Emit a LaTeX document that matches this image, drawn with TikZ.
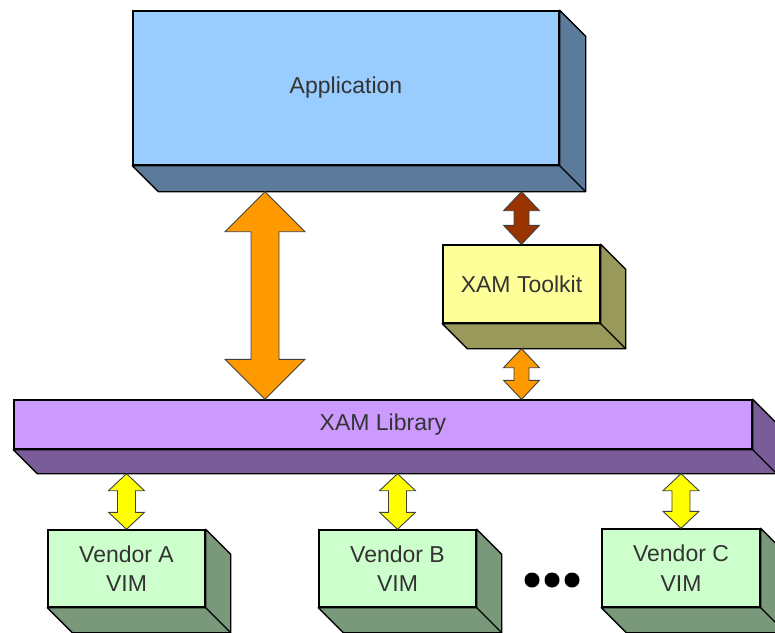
\documentclass[tikz,border=0pt]{standalone}
\usepackage{fontspec}
\setmainfont{Liberation Sans}
\usetikzlibrary{calc}
\definecolor{appF}{HTML}{99CCFF}
\definecolor{appS}{HTML}{5C7A99}
\definecolor{tkF}{HTML}{FFFF99}
\definecolor{tkS}{HTML}{99995C}
\definecolor{libF}{HTML}{CC99FF}
\definecolor{libS}{HTML}{7A5C99}
\definecolor{vF}{HTML}{CCFFCC}
\definecolor{vS}{HTML}{7A997A}
\definecolor{orangeA}{HTML}{FF9900}
\definecolor{redA}{HTML}{993300}
\definecolor{yelA}{HTML}{FFFF00}
\tikzset{
  frontface/.style={draw=black, line width=1.4pt, inner sep=0pt,
    font=\fontsize{23}{29.5}\selectfont, text=black!80, align=center},
  depthface/.style={draw=black, line width=1.4pt, line join=round},
  blockarrow/.style={draw=black!75, line width=0.9pt, line join=miter},
}
\newcommand\cubebox[8]{%
  \node[frontface, fill=#6, minimum width=#3pt, minimum height=#4pt] (#1) at (#2) {#8};
  \draw[depthface, fill=#7] (#1.north east) -- ++(#5,#5) -- ($(#1.south east)+(#5,#5)$)
     -- ($(#1.south west)+(#5,#5)$) -- (#1.south west) -- (#1.south east) -- cycle;
  \draw[depthface] (#1.south east) -- ++(#5,#5);
  \coordinate (#1-base) at ($(#1.south)+(#5,#5)$);
}
% #1 top tip, #2 bottom tip, #3 half head width, #4 half shaft width, #5 head length, #6 fill
\newcommand\dblarrow[6]{%
  \draw[blockarrow, fill=#6] (#1) -- ($(#1)+(#3,#5)$) -- ($(#1)+(#4,#5)$)
    -- ($(#2)+(#4,-#5)$) -- ($(#2)+(#3,-#5)$) -- (#2) -- ($(#2)+(-#3,-#5)$)
    -- ($(#2)+(-#4,-#5)$) -- ($(#1)+(-#4,#5)$) -- ($(#1)+(-#3,#5)$) -- cycle;
}
\begin{document}
\begin{tikzpicture}[x=1pt,y=-1pt]
\useasboundingbox (0,0) rectangle (775,632);
\clip (0,0) rectangle (775,632);
\fill[white] (0,0) rectangle (775,632);

\cubebox{app}{346,88}{426}{154}{26}{appF}{appS}{Application}
\cubebox{tk}{521.5,284}{157}{78}{25}{tkF}{tkS}{XAM Toolkit}
\cubebox{lib}{383,424.5}{738}{49}{24}{libF}{libS}{XAM Library}
\cubebox{vA}{126.5,568.5}{157}{77}{25}{vF}{vS}{Vendor A\\VIM}
\cubebox{vB}{397.5,568.5}{157}{77}{25}{vF}{vS}{Vendor B\\VIM}
\cubebox{vC}{681,568}{158}{78}{25}{vF}{vS}{Vendor C\\VIM}

\coordinate (bigx) at (265,0);
\coordinate (bigT) at (bigx |- app-base);
\coordinate (bigB) at (bigx |- lib.north);
\dblarrow{bigT}{bigB}{40}{14}{40}{orangeA}

\coordinate (tkT) at (tk.north |- app-base);
\dblarrow{tkT}{tk.north}{18}{7.5}{19}{redA}
\coordinate (tkB) at (tk.south |- tk-base);
\coordinate (libT) at (tk.south |- lib.north);
\dblarrow{tkB}{libT}{18}{7.5}{19}{orangeA}

\coordinate (yA) at (vA.north |- lib-base);
\dblarrow{yA}{vA.north}{18}{9}{17}{yelA}
\coordinate (yB) at (vB.north |- lib-base);
\dblarrow{yB}{vB.north}{18}{9}{17}{yelA}
\coordinate (yC) at (vC.north |- lib-base);
\dblarrow{yC}{vC.north}{18}{9}{17}{yelA}

\fill[black] (532,580) circle[radius=7.5pt] (552,580) circle[radius=7.5pt] (572,580) circle[radius=7.5pt];
\end{tikzpicture}
\end{document}
